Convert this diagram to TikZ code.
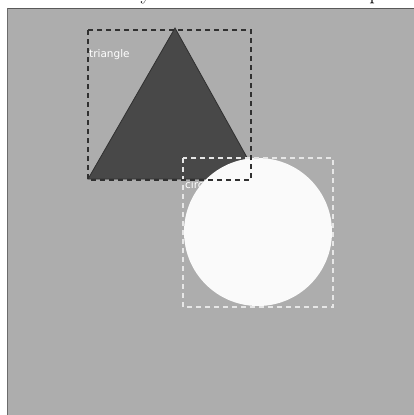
\documentclass[tikz,border=0pt]{standalone}
\usepackage{fontspec}
\newfontfamily\labelfont{DejaVu Sans}
\definecolor{bggray}{HTML}{ADADAD}
\definecolor{tridark}{HTML}{484848}
\definecolor{boxdark}{HTML}{303030}
\definecolor{circwhite}{HTML}{FAFAFA}
\definecolor{boxlight}{HTML}{E6E6E6}
\tikzset{
  bbox/.style={line width=1.6pt, dash pattern=on 5pt off 4pt},
  lbl/.style={font=\labelfont\fontsize{10.5}{12}\selectfont, text=white, inner sep=0pt, anchor=base west},
}
\begin{document}
\begin{tikzpicture}[x=1pt,y=-1pt]
\useasboundingbox (0,0) rectangle (414,415);
% page fragment above
\fill[white] (0,0) rectangle (414,8);
\begin{scope}
\clip (0,0) rectangle (414,8);
\node[font=\fontsize{22}{24}\selectfont, inner sep=0pt, anchor=base] (fragA) at (146,-1) {y};
\node[font=\fontsize{22}{24}\selectfont, inner sep=0pt, anchor=base] (fragB) at (375,-1) {p};
\end{scope}
% gray canvas
\fill[bggray] (7,8) rectangle (414,415);
\draw[gray!70!black, line width=1.2pt] (7,8.6) -- (414,8.6);
\draw[gray!85!black, line width=1pt] (7.5,8) -- (7.5,415);
% triangle
\coordinate (tA) at (88,179);
\coordinate (tB) at (175,28);
\coordinate (tC) at (259,179);
\fill[tridark, draw=boxdark, line width=0.8pt] (tA) -- (tB) -- (tC) -- cycle;
% circle label (partly hidden by the circle)
\node[lbl] (clabel) at (185,188) {circle};
% circle
\node[circle, fill=circwhite, minimum size=148pt, inner sep=0pt] (circ) at (258,232) {};
% bounding boxes
\draw[bbox, boxlight] (183,158) rectangle (333,307);
\draw[bbox, boxdark] (88,30) rectangle (251,180);
\node[lbl] (tlabel) at (89,57) {triangle};
\end{tikzpicture}
\end{document}
